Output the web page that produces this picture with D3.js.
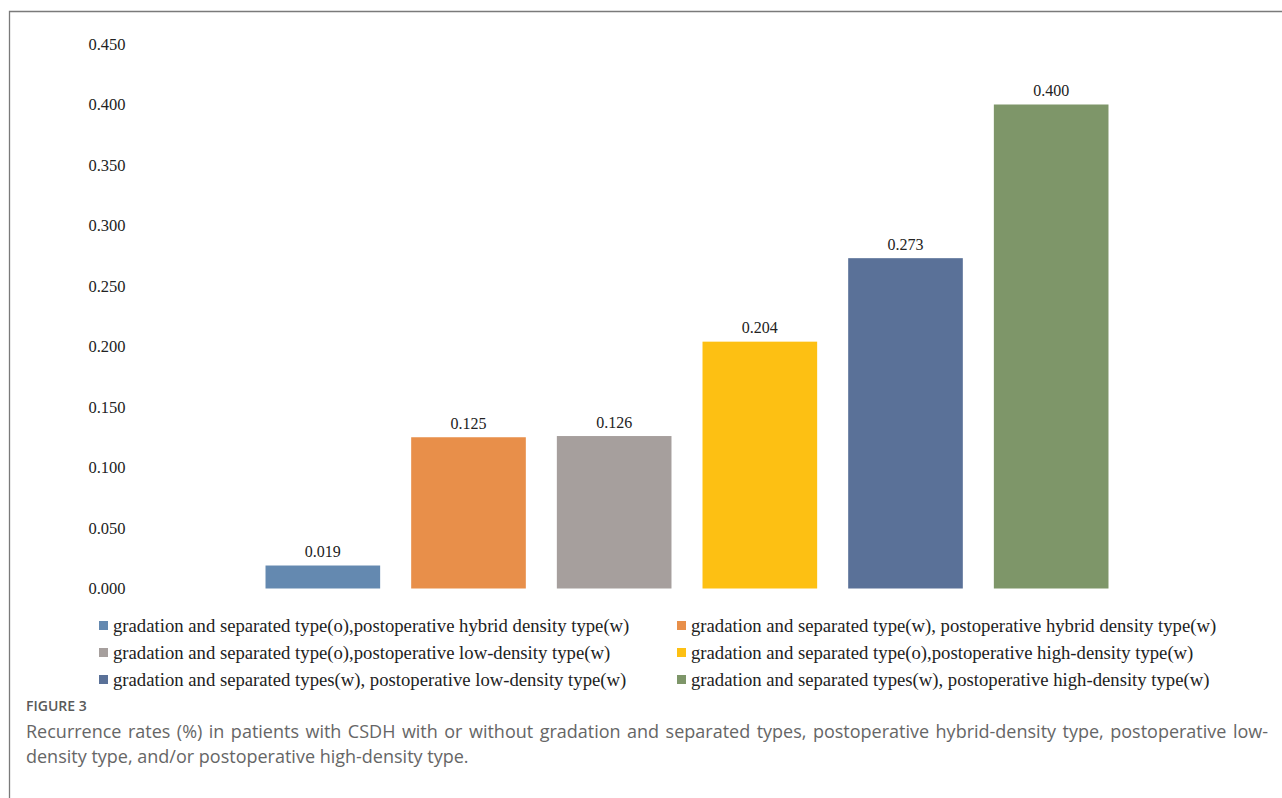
<!DOCTYPE html>
<html>
<head>
<meta charset="utf-8">
<script src="https://cdn.jsdelivr.net/npm/d3@7"></script>
<style>
  html, body { margin: 0; padding: 0; background: #fff; }
  svg { display: block; }
</style>
</head>
<body>
<svg id="chart" width="1282" height="798"></svg>
<script>
const series = [
    "gradation and separated type(o),postoperative hybrid density type(w)",
    "gradation and separated type(w), postoperative hybrid density type(w)",
    "gradation and separated type(o),postoperative low-density type(w)",
    "gradation and separated type(o),postoperative high-density type(w)",
    "gradation and separated types(w), postoperative low-density type(w)",
    "gradation and separated types(w), postoperative high-density type(w)"
];
const values = [0.019, 0.125, 0.126, 0.204, 0.273, 0.400];
const colors = ["#6489b0", "#e88f4a", "#a69f9d", "#fdc013", "#5a7198", "#7e9669"];
const yTicks = [0, 0.05, 0.1, 0.15, 0.2, 0.25, 0.3, 0.35, 0.4, 0.45];
const captionLabel = "FIGURE 3";
const captionLines = [
    "Recurrence rates (%) in patients with CSDH with or without gradation and separated types, postoperative hybrid-density type, postoperative low-",
    "density type, and/or postoperative high-density type."
];

const svg = d3.select("#chart");
const serif = "'Liberation Serif', 'Times New Roman', serif";

// frame of the figure panel
svg.append("path")
    .attr("d", "M9.5,798 L9.5,11.5 L1282,11.5")
    .attr("fill", "none")
    .attr("stroke", "#7a7a7a")
    .attr("stroke-width", 1.3);

const y = d3.scaleLinear().domain([0, 0.45]).range([588.5, 44]);
const x = d3.scaleBand()
    .domain(d3.range(values.length))
    .range([250, 1124])
    .paddingInner(0.213)
    .paddingOuter(0.1065);

// y axis: labels only, no line
const yAxis = svg.append("g")
    .attr("transform", "translate(125.5,0)")
    .call(d3.axisLeft(y).tickValues(yTicks).tickFormat(d3.format(".3f")).tickSize(0).tickPadding(0));
yAxis.select(".domain").remove();
yAxis.selectAll("text")
    .attr("font-family", serif)
    .attr("font-size", 16.5)
    .attr("fill", "#222");

const bars = svg.append("g");
bars.selectAll("rect")
    .data(values)
    .join("rect")
    .attr("x", (d, i) => x(i))
    .attr("width", x.bandwidth())
    .attr("y", d => y(d))
    .attr("height", d => y(0) - y(d))
    .attr("fill", (d, i) => colors[i]);

bars.selectAll("text")
    .data(values)
    .join("text")
    .attr("x", (d, i) => x(i) + x.bandwidth() / 2)
    .attr("y", d => y(d) - 8.5)
    .attr("text-anchor", "middle")
    .attr("font-family", serif)
    .attr("font-size", 16)
    .attr("fill", "#222")
    .text(d => d3.format(".3f")(d));

// legend, two columns, three rows
const legend = svg.append("g");
const item = legend.selectAll("g")
    .data(series)
    .join("g")
    .attr("transform", (d, i) => `translate(${i % 2 === 0 ? 99 : 677},${626 + Math.floor(i / 2) * 27})`);
item.append("rect")
    .attr("x", 0)
    .attr("y", -5)
    .attr("width", 9)
    .attr("height", 9)
    .attr("fill", (d, i) => colors[i]);
item.append("text")
    .attr("x", 14)
    .attr("y", 6)
    .attr("font-family", serif)
    .attr("font-size", 18.7)
    .attr("fill", "#222")
    .text(d => d);

// caption
svg.append("text")
    .attr("x", 26)
    .attr("y", 711)
    .attr("font-family", "'Open Sans', sans-serif")
    .attr("font-size", 14)
    .attr("font-weight", 600)
    .attr("fill", "#5a5a5a")
    .text(captionLabel);

const caption = svg.append("text")
    .attr("font-family", "'Open Sans', sans-serif")
    .attr("font-size", 18)
    .attr("fill", "#666");
caption.selectAll("tspan")
    .data(captionLines)
    .join("tspan")
    .attr("x", 26)
    .attr("y", (d, i) => 738 + i * 25)
    .text(d => d);

// justify the first caption line like the journal layout
const first = caption.select("tspan").node();
const gaps = captionLines[0].split(" ").length - 1;
const extra = (1268 - 26 - first.getComputedTextLength()) / gaps;
if (extra > 0) d3.select(first).attr("word-spacing", extra);
</script>
</body>
</html>
